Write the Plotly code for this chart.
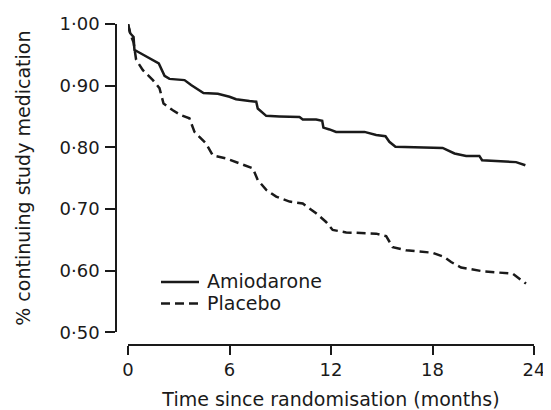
import plotly.graph_objects as go

# Months since randomisation and proportion continuing medication
amio_t = [0, 0.13, 0.33, 0.38, 0.58, 1.07, 1.82, 2.16, 2.45, 3.34, 3.73, 4.46, 5.31, 6.0, 6.39,
          7.18, 7.58, 7.67, 8.17, 8.95, 9.55, 10.14, 10.33, 11.12, 11.48, 11.55, 11.91, 12.3,
          13.98, 14.67, 15.22, 15.45, 15.81, 18.01, 18.6, 19.3, 19.99, 20.77, 20.93, 22.94, 23.49]
amio_v = [1.00, 0.985, 0.979, 0.958, 0.955, 0.947, 0.936, 0.916, 0.911, 0.909, 0.901, 0.888, 0.887,
          0.882, 0.878, 0.875, 0.874, 0.863, 0.851, 0.850, 0.850, 0.849, 0.845, 0.845, 0.843, 0.832,
          0.829, 0.825, 0.825, 0.820, 0.818, 0.809, 0.801, 0.800, 0.799, 0.790, 0.786, 0.786, 0.779,
          0.776, 0.771]

plac_t = [0, 0.13, 0.33, 0.48, 0.88, 1.47, 1.86, 2.1, 2.65, 3.14, 3.63, 3.93, 4.62, 5.01, 5.80,
          6.59, 7.38, 7.67, 8.17, 8.76, 9.55, 10.33, 11.12, 11.71, 12.1, 12.9, 14.67, 15.26, 15.65,
          16.44, 18.01, 18.7, 19.1, 19.69, 20.97, 22.74, 23.04, 23.53]
plac_v = [1.00, 0.985, 0.970, 0.942, 0.925, 0.909, 0.896, 0.871, 0.860, 0.852, 0.847, 0.825, 0.806,
          0.787, 0.782, 0.774, 0.766, 0.747, 0.731, 0.720, 0.712, 0.709, 0.693, 0.679, 0.666, 0.662,
          0.660, 0.656, 0.638, 0.633, 0.629, 0.622, 0.614, 0.605, 0.599, 0.595, 0.589, 0.579]

x_ticks = [0, 6, 12, 18, 24]
x_ticklabels = ["0", "6", "12", "18", "24"]
y_ticks = [0.5, 0.6, 0.7, 0.8, 0.9, 1.0]
y_ticklabels = ["0·50", "0·60", "0·70", "0·80", "0·90", "1·00"]

series_names = ["Amiodarone", "Placebo"]

INK = "#1a1a1a"
FONT = "DejaVu Sans"

# the page body has an 8px default margin; figure is sized to fit the window
OFF = 8
FIG_W, FIG_H = 551 - OFF, 410 - OFF
L, R, T, B = 116 - OFF, 17, 24 - OFF, 65
W, H = FIG_W - L - R, FIG_H - T - B

fig = go.Figure()
fig.add_trace(go.Scatter(x=amio_t, y=amio_v, mode="lines", name=series_names[0],
                         line=dict(color=INK, width=2.5), showlegend=False))
fig.add_trace(go.Scatter(x=plac_t, y=plac_v, mode="lines", name=series_names[1],
                         line=dict(color=INK, width=2.5, dash="9px,5px"), showlegend=False))

# legend drawn as samples + labels (window pixel positions -> paper fractions)
def px_x(p):
    return (p - OFF - L) / W
def px_y(p):
    return (T + H - (p - OFF)) / H

leg_rows = [(282.0, "solid"), (303.5, "9px,5px")]
for (yy, dash), name in zip(leg_rows, series_names):
    fig.add_shape(type="line", xref="paper", yref="paper",
                  x0=px_x(161), x1=px_x(199), y0=px_y(yy), y1=px_y(yy),
                  line=dict(color=INK, width=2.5, dash=dash))
    fig.add_annotation(xref="paper", yref="paper", x=px_x(205), y=px_y(yy - 1),
                       text=name, showarrow=False, xanchor="left", yanchor="middle",
                       font=dict(family=FONT, size=19, color=INK))

x0_px = 128 - 116
y0_px = 345 - 332.3
fig.update_layout(
    width=FIG_W, height=FIG_H,
    margin=dict(l=L, r=R, t=T, b=B, autoexpand=False),
    paper_bgcolor="white", plot_bgcolor="white",
    font=dict(family=FONT, size=18, color=INK),
    xaxis=dict(
        domain=[x0_px / W, 1], anchor="free", position=0,
        range=[0, 24], tickvals=x_ticks, ticktext=x_ticklabels,
        showgrid=False, zeroline=False, showline=True, linecolor=INK, linewidth=1.5,
        ticks="outside", ticklen=9, tickwidth=1.5, tickcolor=INK,
        tickfont=dict(family=FONT, size=18, color=INK),
        title=dict(text="Time since randomisation (months)",
                   font=dict(family=FONT, size=19, color=INK), standoff=12),
    ),
    yaxis=dict(
        domain=[y0_px / H, 1], anchor="free", position=0,
        range=[0.5, 1.0], tickvals=y_ticks, ticktext=y_ticklabels,
        showgrid=False, zeroline=False, showline=True, linecolor=INK, linewidth=1.5,
        ticks="outside", ticklen=10, tickwidth=1.5, tickcolor=INK, ticklabelstandoff=2,
        tickfont=dict(family=FONT, size=18, color=INK),
        title=dict(text="% continuing study medication",
                   font=dict(family=FONT, size=19, color=INK), standoff=23),
    ),
)

fig.write_html("out.html")
